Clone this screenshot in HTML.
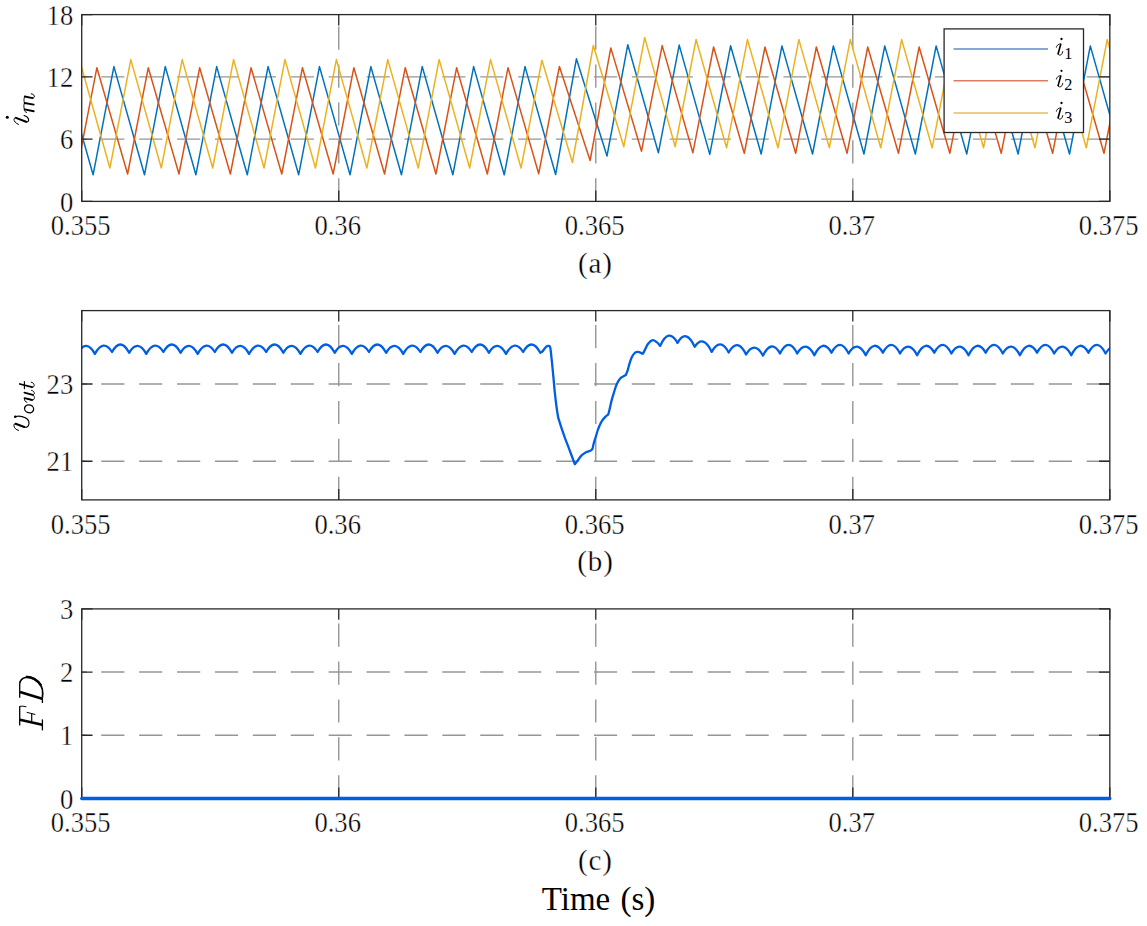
<!DOCTYPE html>
<html><head><meta charset="utf-8"><title>plot</title><style>html,body{margin:0;padding:0;background:#fff;overflow:hidden}
svg{display:block}
text{font-family:"Liberation Serif",serif;fill:#000}
.tk{font-size:26.6px;stroke:#fff;stroke-width:0.35px}
.cap{font-size:29px;letter-spacing:0.9px;stroke:#fff;stroke-width:0.3px}
.yl{font-size:35px;font-style:italic}
.lg{font-size:27px;font-style:italic}</style></head><body>
<svg width="1147" height="926" viewBox="0 0 1147 926">
<defs>
<clipPath id="ca"><rect x="81.72" y="14.6" width="1028.11" height="186.8"/></clipPath>
<clipPath id="cb"><rect x="81.72" y="310.6" width="1028.11" height="189.3"/></clipPath>
<clipPath id="cc"><rect x="81.72" y="608.9" width="1028.11" height="189.5"/></clipPath>
</defs>
<path d="M338.75 201.4V14.6M595.77 201.4V14.6M852.8 201.4V14.6M1109.83 139.13H81.72M1109.83 76.87H81.72" stroke="#969696" stroke-width="1.4" stroke-dasharray="23.2 14.7" fill="none"/>
<g clip-path="url(#ca)" fill="none" stroke-width="1.5" stroke-linejoin="round">
<path d="M-9.68 174.8L11.12 66.6L41.71 174.8L62.51 66.6L93.1 174.8L113.9 66.6L144.49 174.8L165.29 66.6L195.88 174.8L216.68 66.6L247.27 174.8L268.07 66.6L298.66 174.8L319.46 66.6L350.05 174.8L370.85 66.6L401.44 174.8L422.24 66.6L452.83 174.8L473.63 66.6L504.22 174.8L525.02 66.6L555.61 174.5L576.41 58.8L607 156L627.8 44.7L658.39 152.8L679.19 45.1L709.78 154.4L730.58 45.8L761.17 154L781.97 45.9L812.56 154L833.36 45.9L863.95 154L884.75 45.9L915.34 154L936.14 45.9L966.73 154L987.53 45.9L1018.12 154L1038.92 45.9L1069.51 154L1090.31 45.9L1120.9 154L1141.7 45.9" stroke="#0072BD"/>
<path d="M-26.58 174L-5.88 67.7L24.81 174L45.51 67.7L76.2 174L96.9 67.7L127.59 174L148.29 67.7L178.98 174L199.68 67.7L230.37 174L251.07 67.7L281.76 174L302.46 67.7L333.15 174L353.85 67.7L384.54 174L405.24 67.7L435.93 174L456.63 67.7L487.32 174L508.02 67.7L538.71 173.7L559.41 66.5L590.1 160.5L610.8 47.9L641.49 151.2L662.19 45.6L692.88 152.8L713.58 47L744.27 153.3L764.97 47L795.66 153.3L816.36 47L847.05 153.3L867.75 47L898.44 153.3L919.14 47L949.83 153.3L970.53 47L1001.22 153.3L1021.92 47L1052.61 153.3L1073.31 47L1104 153.3L1124.7 47L1155.39 153.3" stroke="#D95319"/>
<path d="M7.12 168L28.02 59.6L58.51 168L79.41 59.6L109.9 168L130.8 59.6L161.29 168L182.19 59.6L212.68 168L233.58 59.6L264.07 168L284.97 59.6L315.46 168L336.36 59.6L366.85 168L387.75 59.6L418.24 168L439.14 59.6L469.63 168L490.53 59.6L521.02 168L541.92 60.3L572.41 162.5L593.31 45.5L623.8 146.7L644.7 37.6L675.19 146.7L696.09 39.5L726.58 147.8L747.48 39.6L777.97 147.8L798.87 39.6L829.36 147.8L850.26 39.6L880.75 147.8L901.65 39.6L932.14 147.8L953.04 39.6L983.53 147.8L1004.43 39.6L1034.92 147.8L1055.82 39.6L1086.31 147.8L1107.21 39.6L1137.7 147.8L1158.6 39.6" stroke="#EDB120"/>
</g>
<rect x="81.72" y="14.6" width="1028.11" height="186.8" fill="none" stroke="#282828" stroke-width="1.3"/><path d="M81.72 201.4v-10.8M81.72 14.6v10.8M338.75 201.4v-10.8M338.75 14.6v10.8M595.77 201.4v-10.8M595.77 14.6v10.8M852.8 201.4v-10.8M852.8 14.6v10.8M1109.83 201.4v-10.8M1109.83 14.6v10.8M81.72 201.4h10.8M1109.83 201.4h-10.8M81.72 139.13h10.8M1109.83 139.13h-10.8M81.72 76.87h10.8M1109.83 76.87h-10.8M81.72 14.6h10.8M1109.83 14.6h-10.8" stroke="#282828" stroke-width="1.3" fill="none"/>
<text transform="translate(80.62,235.2) scale(1,1.1)" text-anchor="middle" class="tk">0.355</text><text transform="translate(337.65,235.2) scale(1,1.1)" text-anchor="middle" class="tk">0.36</text><text transform="translate(594.67,235.2) scale(1,1.1)" text-anchor="middle" class="tk">0.365</text><text transform="translate(851.7,235.2) scale(1,1.1)" text-anchor="middle" class="tk">0.37</text><text transform="translate(1108.73,235.2) scale(1,1.1)" text-anchor="middle" class="tk">0.375</text><text transform="translate(73.2,211.5) scale(1,1.1)" text-anchor="end" class="tk">0</text><text transform="translate(73.2,149.23) scale(1,1.1)" text-anchor="end" class="tk">6</text><text transform="translate(73.2,86.97) scale(1,1.1)" text-anchor="end" class="tk">12</text><text transform="translate(73.2,24.7) scale(1,1.1)" text-anchor="end" class="tk">18</text><text x="595.48" y="272.9" text-anchor="middle" class="cap">(a)</text>
<rect x="944.1" y="28.9" width="139.4" height="103.6" fill="#fff" stroke="#282828" stroke-width="1.3"/>
<path d="M953.5 48.9H1048" stroke="#5C8CC6" stroke-width="1.5"/>
<g transform="translate(0,48.9)" fill="none" stroke="#000" stroke-linecap="round"><path d="M1056.4 -1.6C1056.9 -3.5 1058.4 -5.5 1060.6 -4.9" stroke-width="0.85"/><path d="M1060.75 -4.7L1058.1 4.9" stroke-width="1.6"/><path d="M1058.1 4.9C1058.2 6.3 1059.7 6.7 1061.3 5.7C1062.2 5.0 1062.6 3.6 1062.75 2.6" stroke-width="0.9"/><circle cx="1061.5" cy="-9.9" r="1.15" fill="#000" stroke="none"/></g>
<text x="1068.3" y="58.6" text-anchor="middle" style="font-size:16.2px">1</text>
<path d="M953.5 80.7H1048" stroke="#DE7A64" stroke-width="1.5"/>
<g transform="translate(0,80.7)" fill="none" stroke="#000" stroke-linecap="round"><path d="M1056.4 -1.6C1056.9 -3.5 1058.4 -5.5 1060.6 -4.9" stroke-width="0.85"/><path d="M1060.75 -4.7L1058.1 4.9" stroke-width="1.6"/><path d="M1058.1 4.9C1058.2 6.3 1059.7 6.7 1061.3 5.7C1062.2 5.0 1062.6 3.6 1062.75 2.6" stroke-width="0.9"/><circle cx="1061.5" cy="-9.9" r="1.15" fill="#000" stroke="none"/></g>
<text x="1068.3" y="90.4" text-anchor="middle" style="font-size:16.2px">2</text>
<path d="M953.5 112.9H1048" stroke="#ECBA60" stroke-width="1.5"/>
<g transform="translate(0,112.9)" fill="none" stroke="#000" stroke-linecap="round"><path d="M1056.4 -1.6C1056.9 -3.5 1058.4 -5.5 1060.6 -4.9" stroke-width="0.85"/><path d="M1060.75 -4.7L1058.1 4.9" stroke-width="1.6"/><path d="M1058.1 4.9C1058.2 6.3 1059.7 6.7 1061.3 5.7C1062.2 5.0 1062.6 3.6 1062.75 2.6" stroke-width="0.9"/><circle cx="1061.5" cy="-9.9" r="1.15" fill="#000" stroke="none"/></g>
<text x="1068.3" y="122.6" text-anchor="middle" style="font-size:16.2px">3</text>
<g fill="none" stroke="#000" stroke-linecap="round" stroke-linejoin="round"><path d="M18.4 124.35C15.6 123.3 13.7 120.9 14.0 119.1C14.3 117.9 15.1 117.6 16.0 117.9" stroke-width="1.0"/><path d="M16.0 117.9L26.0 121.8" stroke-width="2.0"/><path d="M26.0 121.8C27.9 122.4 29.0 121.0 28.5 119.0C28.0 117.3 26.0 116.0 24.1 115.45" stroke-width="1.15"/><path d="M26.6 112.4C25.2 112.2 24.3 111.2 24.4 109.5" stroke-width="0.95"/><path d="M24.6 109.4L33.7 111.2" stroke-width="1.9"/><path d="M24.5 109.4C23.5 107.5 23.6 104.6 24.6 103.0" stroke-width="0.95"/><path d="M24.6 103.0L33.7 104.6" stroke-width="1.9"/><path d="M24.6 103.0C23.6 101.0 23.7 98.0 24.8 96.5" stroke-width="0.95"/><path d="M24.8 96.5L32.5 98.1" stroke-width="1.9"/><path d="M32.5 98.1C33.8 98.3 34.6 97.4 34.3 96.0C34.0 94.8 32.7 94.0 31.3 93.8" stroke-width="1.0"/></g><circle cx="7.3" cy="117.3" r="1.55" fill="#000"/>
<path d="M338.75 499.9V310.6M595.77 499.9V310.6M852.8 499.9V310.6M1109.83 461.27H81.72M1109.83 384H81.72" stroke="#969696" stroke-width="1.4" stroke-dasharray="23.2 14.7" fill="none"/>
<g clip-path="url(#cb)"><path d="M77.77 352.8Q86.34 338.45 94.9 353.9Q103.47 338.45 112.03 352Q120.59 336.6 129.16 352.8Q137.73 338.45 146.29 353.9Q154.86 338.45 163.42 352Q171.99 336.6 180.55 352.8Q189.12 338.45 197.68 353.9Q206.25 338.45 214.81 352Q223.38 336.6 231.94 352.8Q240.5 338.45 249.07 353.9Q257.63 338.45 266.2 352Q274.76 336.6 283.33 352.8Q291.89 338.45 300.46 353.9Q309.03 338.45 317.59 352Q326.16 336.6 334.72 352.8Q343.29 338.45 351.85 353.9Q360.42 338.45 368.98 352Q377.55 336.6 386.11 352.8Q394.68 338.45 403.24 353.9Q411.81 338.45 420.37 352Q428.94 336.6 437.5 352.8Q446.06 338.45 454.63 353.9Q463.19 338.45 471.76 352Q480.32 336.6 488.89 352.8Q497.45 338.45 506.02 353.9Q514.59 338.45 523.15 352Q531.71 336.6 540.28 352.8C540.75 352.48 542.05 351.9 543 350.9C543.95 349.9 545.03 347.63 546 346.8C546.97 345.97 548.08 345.73 548.8 345.9C549.52 346.07 549.8 345.33 550.3 347.8C550.8 350.27 551.3 356.03 551.8 360.7C552.3 365.37 552.8 370.52 553.3 375.8C553.8 381.08 554.25 387.12 554.8 392.4C555.35 397.68 556.03 403.3 556.6 407.5C557.17 411.7 557.93 415.92 558.2 417.6C558.7 419.2 560.08 423.83 561.2 427.2C562.32 430.57 563.52 434.02 564.9 437.8C566.28 441.58 567.85 445.5 569.5 449.9C571.15 454.3 573.92 461.82 574.8 464.2C575.3 463.57 576.67 461.87 577.8 460.4C578.93 458.93 580.22 456.77 581.6 455.4C582.98 454.03 584.95 452.87 586.1 452.2C587.25 451.53 587.68 451.7 588.5 451.4C589.32 451.1 590.32 450.87 591 450.4C591.68 449.93 592.33 448.9 592.6 448.6C592.82 447.63 593.4 444.67 593.9 442.8C594.4 440.93 595 439.37 595.6 437.4C596.2 435.43 596.83 432.98 597.5 431C598.17 429.02 598.83 427.22 599.6 425.5C600.37 423.78 601.15 422.13 602.1 420.7C603.05 419.27 604.28 417.93 605.3 416.9C606.32 415.87 607.72 414.9 608.2 414.5C608.38 413.85 608.72 413 609.3 410.6C609.88 408.2 610.9 403.2 611.7 400.1C612.5 397 613.3 394.57 614.1 392C614.9 389.43 615.55 386.87 616.5 384.7C617.45 382.53 618.72 380.35 619.8 379C620.88 377.65 622 377.27 623 376.6C624 375.93 625.33 375.27 625.8 375C626.08 374.32 626.88 372.8 627.5 370.9C628.12 369 628.77 365.9 629.5 363.6C630.23 361.3 630.97 358.92 631.9 357.1C632.83 355.28 634.02 353.57 635.1 352.7C636.18 351.83 637.12 351.72 638.4 351.9C639.68 352.08 642.07 353.48 642.8 353.8C643.15 353.15 644.05 351.53 644.9 349.9C645.75 348.27 646.62 345.63 647.9 344C649.18 342.37 651.12 340.4 652.6 340.1C654.08 339.8 655.55 341.23 656.8 342.2C658.05 343.17 659.55 345.28 660.1 345.9Q668.8 326.8 677.5 342.9Q686.1 327.75 694.7 346.8Q703.2 333.85 711.7 351.9Q720.2 336.6 728.7 352.5Q737.4 336.9 746.1 354.5Q754.55 340.15 763 355.6Q771.5 338.45 780 353.5Q788.62 336.1 797.23 353.5Q805.79 339.05 814.36 355.2Q822.92 337.65 831.49 352.7Q840.05 336.5 848.62 353.5Q857.18 339.05 865.75 355.2Q874.31 337.65 882.88 352.7Q891.44 336.5 900.01 353.5Q908.57 339.05 917.14 355.2Q925.7 337.65 934.27 352.7Q942.84 336.5 951.4 353.5Q959.96 339.05 968.53 355.2Q977.1 337.65 985.66 352.7Q994.22 336.5 1002.79 353.5Q1011.36 339.05 1019.92 355.2Q1028.48 337.65 1037.05 352.7Q1045.62 336.5 1054.18 353.5Q1062.74 339.05 1071.31 355.2Q1079.88 337.65 1088.44 352.7Q1097.01 336.5 1105.57 353.5Q1114.13 339.05 1122.7 355.2Q1131.26 337.65 1139.83 352.7" fill="none" stroke="#005EE2" stroke-width="2.3" stroke-linejoin="round"/></g>
<rect x="81.72" y="310.6" width="1028.11" height="189.3" fill="none" stroke="#282828" stroke-width="1.3"/><path d="M81.72 499.9v-10.8M81.72 310.6v10.8M338.75 499.9v-10.8M338.75 310.6v10.8M595.77 499.9v-10.8M595.77 310.6v10.8M852.8 499.9v-10.8M852.8 310.6v10.8M1109.83 499.9v-10.8M1109.83 310.6v10.8M81.72 461.27h10.8M1109.83 461.27h-10.8M81.72 384h10.8M1109.83 384h-10.8" stroke="#282828" stroke-width="1.3" fill="none"/>
<text transform="translate(80.62,533.7) scale(1,1.1)" text-anchor="middle" class="tk">0.355</text><text transform="translate(337.65,533.7) scale(1,1.1)" text-anchor="middle" class="tk">0.36</text><text transform="translate(594.67,533.7) scale(1,1.1)" text-anchor="middle" class="tk">0.365</text><text transform="translate(851.7,533.7) scale(1,1.1)" text-anchor="middle" class="tk">0.37</text><text transform="translate(1108.73,533.7) scale(1,1.1)" text-anchor="middle" class="tk">0.375</text><text transform="translate(73.2,471.37) scale(1,1.1)" text-anchor="end" class="tk">21</text><text transform="translate(73.2,394.1) scale(1,1.1)" text-anchor="end" class="tk">23</text><text x="595.48" y="571.4" text-anchor="middle" class="cap">(b)</text>
<g fill="none" stroke="#000" stroke-linecap="round" stroke-linejoin="round"><path d="M18.6 430.4C16.0 429.8 14.0 428.1 13.9 425.3C13.9 424.1 14.7 423.5 15.6 423.8" stroke-width="1.0"/><path d="M15.6 423.8L24.3 427.0" stroke-width="2.1"/><path d="M24.3 427.0C26.6 427.7 28.6 426.8 29.0 423.6C29.3 420.3 26.3 417.6 22.1 416.6C19.6 416.0 17.6 416.0 16.1 416.5" stroke-width="1.15"/><ellipse cx="29.1" cy="408.85" rx="4.6" ry="3.9" transform="rotate(22 29.1 408.85)" stroke-width="1.35"/><path d="M26.95 402.3C25.3 401.9 24.3 400.8 24.4 398.6" stroke-width="0.95"/><path d="M24.6 398.2L32.1 400.0" stroke-width="1.8"/><path d="M32.1 400.0C33.6 400.3 34.5 399.0 34.4 397.5C34.3 396.1 33.7 395.3 32.8 394.9" stroke-width="0.95"/><path d="M24.4 392.6L32.8 394.8" stroke-width="1.8"/><path d="M32.8 394.8C34.0 395.1 34.6 393.8 34.2 392.6C33.8 391.3 32.7 390.5 31.5 390.3" stroke-width="0.95"/><path d="M19.8 384.0L32.1 387.1" stroke-width="1.8"/><path d="M32.1 387.1C33.6 387.4 34.5 386.3 34.1 384.6C33.8 383.3 32.6 382.4 31.2 382.2" stroke-width="0.95"/><path d="M24.4 381.6L24.4 388.7" stroke-width="1.1"/></g><circle cx="15.3" cy="416.75" r="1.35" fill="#000"/>
<path d="M338.75 798.4V608.9M595.77 798.4V608.9M852.8 798.4V608.9M1109.83 735.23H81.72M1109.83 672.07H81.72" stroke="#969696" stroke-width="1.4" stroke-dasharray="23.2 14.7" fill="none"/>
<rect x="81.72" y="608.9" width="1028.11" height="189.5" fill="none" stroke="#282828" stroke-width="1.3"/><path d="M81.72 798.4v-10.8M81.72 608.9v10.8M338.75 798.4v-10.8M338.75 608.9v10.8M595.77 798.4v-10.8M595.77 608.9v10.8M852.8 798.4v-10.8M852.8 608.9v10.8M1109.83 798.4v-10.8M1109.83 608.9v10.8M81.72 798.4h10.8M1109.83 798.4h-10.8M81.72 735.23h10.8M1109.83 735.23h-10.8M81.72 672.07h10.8M1109.83 672.07h-10.8M81.72 608.9h10.8M1109.83 608.9h-10.8" stroke="#282828" stroke-width="1.3" fill="none"/>
<path d="M81.72 798.5H1109.83" stroke="#005EE2" stroke-width="3.3" stroke-linecap="round"/>
<text transform="translate(80.62,832.2) scale(1,1.1)" text-anchor="middle" class="tk">0.355</text><text transform="translate(337.65,832.2) scale(1,1.1)" text-anchor="middle" class="tk">0.36</text><text transform="translate(594.67,832.2) scale(1,1.1)" text-anchor="middle" class="tk">0.365</text><text transform="translate(851.7,832.2) scale(1,1.1)" text-anchor="middle" class="tk">0.37</text><text transform="translate(1108.73,832.2) scale(1,1.1)" text-anchor="middle" class="tk">0.375</text><text transform="translate(73.2,808.5) scale(1,1.1)" text-anchor="end" class="tk">0</text><text transform="translate(73.2,745.33) scale(1,1.1)" text-anchor="end" class="tk">1</text><text transform="translate(73.2,682.17) scale(1,1.1)" text-anchor="end" class="tk">2</text><text transform="translate(73.2,619) scale(1,1.1)" text-anchor="end" class="tk">3</text><text x="595.48" y="869.9" text-anchor="middle" class="cap">(c)</text>
<g fill="none" stroke="#000" stroke-linecap="butt" stroke-linejoin="round"><path d="M20.0 719.7L42.2 724.8" stroke-width="2.5"/><path d="M19.7 725.6L19.7 706.2" stroke-width="1.3"/><path d="M19.7 706.3Q22.5 705.8 26.4 706.8" stroke-width="1.0"/><path d="M31.7 721.6L31.7 713.0" stroke-width="1.2"/><path d="M26.7 712.3L35.4 714.5" stroke-width="1.0"/><path d="M42.4 719.4L42.4 730.4" stroke-width="1.3"/><path d="M20.0 692.0L42.2 698.8" stroke-width="2.5"/><path d="M19.7 697.7L19.7 683.6" stroke-width="1.3"/><path d="M19.7 683.6C20.3 677.0 29.0 675.2 35.2 679.6C40.2 683.2 43.0 688.0 42.7 693.5L42.4 697.5" stroke-width="1.7"/><path d="M42.4 697.3L42.4 703.0" stroke-width="1.3"/><path d="M26.0 677.0C31.0 676.4 37.6 679.6 41.2 685.6" stroke-width="2.5"/></g>
<text x="598.5" y="910.2" text-anchor="middle" font-size="33" word-spacing="2">Time (s)</text>
</svg>
</body></html>
